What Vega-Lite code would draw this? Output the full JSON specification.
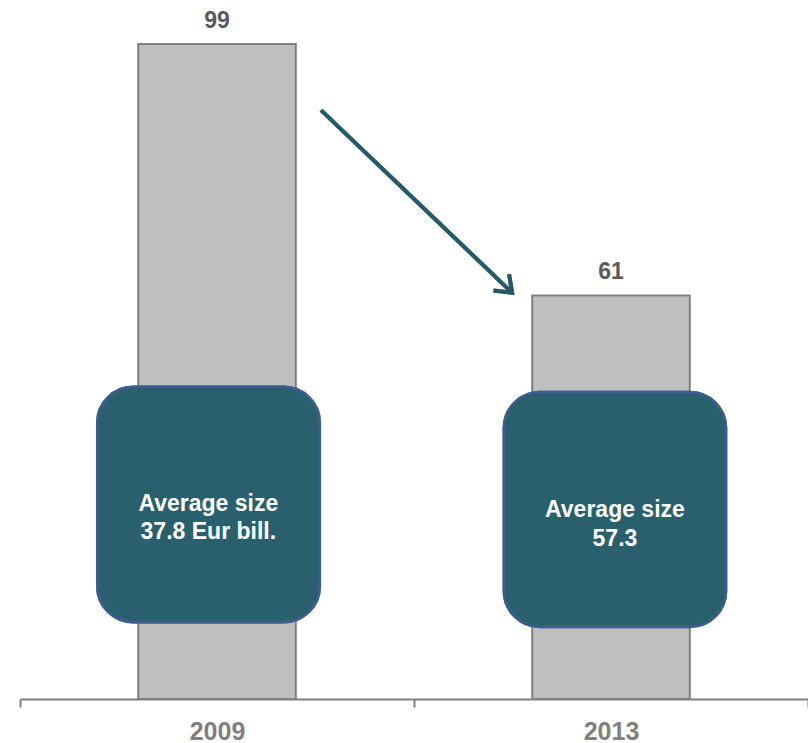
{
  "$schema": "https://vega.github.io/schema/vega-lite/v6.json",
  "width": 788,
  "height": 655,
  "autosize": {"type": "none"},
  "padding": {"left": 20, "top": 44, "right": 0, "bottom": 44},
  "background": "white",
  "config": {"view": {"stroke": null}, "font": "Liberation Sans"},
  "data": {
    "values": [
      {"year": "2009", "value": 99, "label": ["Average size", "37.8 Eur bill."]},
      {"year": "2013", "value": 61, "label": ["Average size", "57.3"]}
    ]
  },
  "encoding": {
    "x": {
      "field": "year",
      "type": "nominal",
      "scale": {"paddingInner": 0, "paddingOuter": 0},
      "axis": {
        "title": null,
        "labelAngle": 0,
        "tickBand": "extent",
        "domainColor": "#808080",
        "domainWidth": 2,
        "tickColor": "#808080",
        "tickWidth": 2,
        "tickSize": 8,
        "labelFont": "Liberation Sans",
        "labelFontSize": 25,
        "labelFontWeight": "bold",
        "labelColor": "#7f7f7f",
        "labelPadding": 12
      }
    }
  },
  "layer": [
    {
      "mark": {"type": "bar", "width": {"band": 0.4}, "fill": "#bfbfbf", "stroke": "#808080", "strokeWidth": 2},
      "encoding": {
        "y": {"field": "value", "type": "quantitative", "scale": {"domain": [0, 99], "nice": false}, "axis": null}
      }
    },
    {
      "mark": {"type": "text", "dy": -23, "fontSize": 23, "fontWeight": "bold", "color": "#595959", "font": "Liberation Sans"},
      "encoding": {
        "y": {"field": "value", "type": "quantitative"},
        "text": {"field": "value", "type": "quantitative"}
      }
    },
    {
      "mark": {"type": "rect", "fill": "#2a5f6e", "stroke": "#3c5f8f", "strokeWidth": 2.5, "cornerRadius": 36},
      "encoding": {
        "x": {"datum": "2009", "bandPosition": 0.196},
        "x2": {"datum": "2009", "bandPosition": 0.761},
        "y": {"datum": 47.2},
        "y2": {"datum": 11.6}
      }
    },
    {
      "mark": {"type": "rect", "fill": "#2a5f6e", "stroke": "#3c5f8f", "strokeWidth": 2.5, "cornerRadius": 36},
      "encoding": {
        "x": {"datum": "2013", "bandPosition": 0.228},
        "x2": {"datum": "2013", "bandPosition": 0.792},
        "y": {"datum": 46.4},
        "y2": {"datum": 10.9}
      }
    },
    {
      "transform": [{"filter": "datum.year == '2009'"}],
      "mark": {"type": "text", "fontSize": 23, "fontWeight": "bold", "color": "white", "font": "Liberation Sans", "lineHeight": 28, "baseline": "middle"},
      "encoding": {
        "x": {"field": "year", "type": "nominal", "bandPosition": 0.478},
        "y": {"datum": 29.4},
        "text": {"field": "label"}
      }
    },
    {
      "transform": [{"filter": "datum.year == '2013'"}],
      "mark": {"type": "text", "fontSize": 23, "fontWeight": "bold", "color": "white", "font": "Liberation Sans", "lineHeight": 29, "baseline": "middle"},
      "encoding": {
        "x": {"field": "year", "type": "nominal", "bandPosition": 0.51},
        "y": {"datum": 28.6},
        "text": {"field": "label"}
      }
    },
    {
      "mark": {"type": "rule", "color": "#255b69", "strokeWidth": 4},
      "encoding": {
        "x": {"datum": "2009", "bandPosition": 0.764},
        "x2": {"datum": "2013", "bandPosition": 0.249},
        "y": {"datum": 89.0},
        "y2": {"datum": 61.4}
      }
    },
    {
      "mark": {"type": "point", "shape": "M-1,-0.75L0,0L-1,0.75", "filled": false, "stroke": "#255b69", "strokeWidth": 4, "size": 900, "angle": 43.8, "opacity": 1},
      "encoding": {
        "x": {"datum": "2013", "bandPosition": 0.249},
        "y": {"datum": 61.4}
      }
    }
  ]
}
